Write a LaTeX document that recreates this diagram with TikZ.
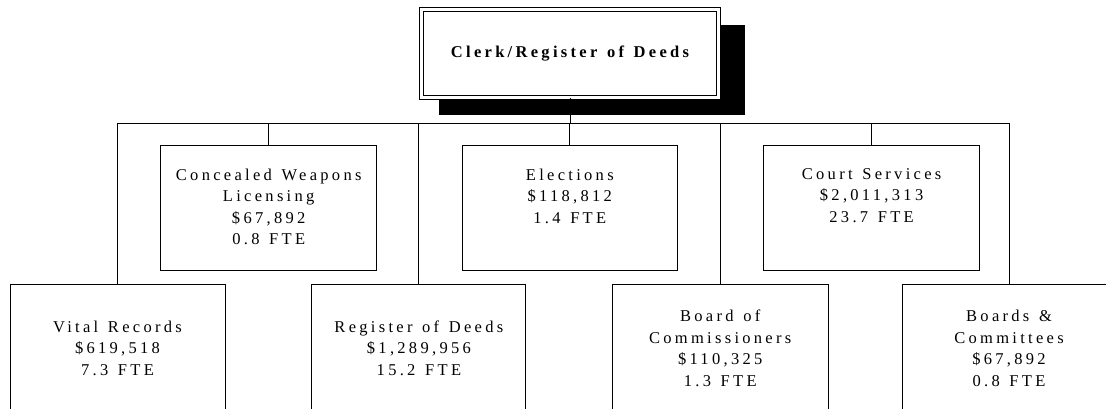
\documentclass[tikz,border=0pt]{standalone}
\usepackage{fontspec}
\newfontfamily\orgfont{Liberation Serif}[LetterSpace=20, WordSpace=1.3]
\usetikzlibrary{shadows}

\tikzset{
  unit/.style={draw, line width=0.9pt, minimum width=215pt, minimum height=125pt, inner sep=0pt},
  unittxt/.style={font=\orgfont\fontsize{16.5}{21.5}\selectfont, align=center, inner sep=0pt},
  link/.style={line width=0.9pt},
}

\begin{document}
\begin{tikzpicture}[x=1pt, y=-1pt]
  \path[use as bounding box, clip] (0,0) rectangle (1106,408);

  % Head office
  \node[draw, double, double distance=3pt, line width=1pt, fill=white,
        minimum width=297pt, minimum height=88pt,
        drop shadow={shadow xshift=21pt, shadow yshift=-16pt, shadow scale=1.03,
                     fill=black, opacity=1},
        font=\orgfont\bfseries\fontsize{16.5}{21.5}\selectfont] (clerk) at (570,53.5) {Clerk/Register of Deeds};
  \coordinate (bus) at (570,123.5);

  % Upper row
  \node[unit, minimum width=216pt] (conc) at (268.7,208.3) {};
  \node[unit] (elect) at (569.8,208.3) {};
  \node[unit, minimum width=216pt] (court) at (871.6,208.3) {};
  \node[unittxt, anchor=north] (conc-t) at ([yshift=-23pt]conc.north) {Concealed Weapons\\Licensing\\\$67,892\\0.8 FTE};
  \node[unittxt, anchor=north] (elect-t) at ([yshift=-23pt]elect.north) {Elections\\\$118,812\\1.4 FTE};
  \node[unittxt, anchor=north] (court-t) at ([yshift=-23pt]court.north) {Court Services\\\$2,011,313\\23.7 FTE};

  % Lower row
  \node[unit, minimum height=128pt] (vital) at (117.5,348.3) {};
  \node[unit, minimum height=128pt, minimum width=214pt] (regd) at (418.9,348.3) {};
  \node[unit, minimum height=128pt, minimum width=216pt] (board) at (720.2,348.3) {};
  \node[unit, minimum height=128pt, minimum width=214pt] (bcom) at (1009,348.3) {};
  \node[unittxt] (vital-t) at (vital.center) {Vital Records\\\$619,518\\7.3 FTE};
  \node[unittxt] (regd-t) at (regd.center) {Register of Deeds\\\$1,289,956\\15.2 FTE};
  \node[unittxt] (board-t) at (board.center) {Board of\\Commissioners\\\$110,325\\1.3 FTE};
  \node[unittxt] (bcom-t) at (bcom.center) {Boards \&\\Committees\\\$67,892\\0.8 FTE};

  % Connectors
  \draw[link] (clerk.south) -- (clerk.south |- bus);
  \draw[link] (vital.north) -- (vital.north |- bus) -- (bcom.north |- bus) -- (bcom.north);
  \foreach \u in {conc,elect,court,regd,board} {
    \draw[link] (\u.north |- bus) -- (\u.north);
  }
\end{tikzpicture}
\end{document}
